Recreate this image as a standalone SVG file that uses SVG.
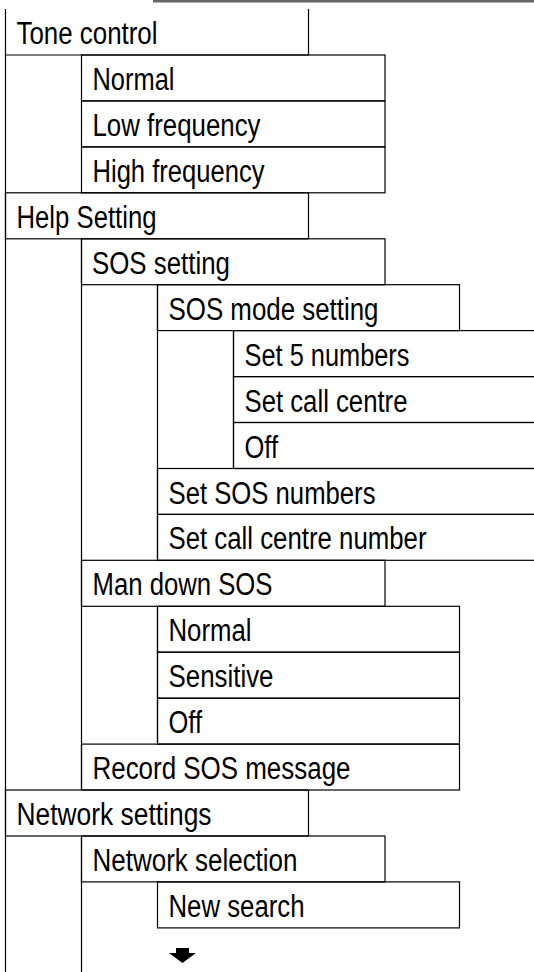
<svg xmlns="http://www.w3.org/2000/svg" width="534" height="972" viewBox="0 0 534 972">
<style>
  .c { fill: none; stroke: #000; stroke-width: 1.2; }
  .t { font-family: "Liberation Sans Narrow", "Arial Narrow", "Liberation Sans", Arial, sans-serif; font-size: 31px; fill: #000; }
</style>
<rect x="153" y="0" width="381" height="2.5" fill="#666"/>
<g id="connectors">
  <line class="c" x1="5.5" y1="9" x2="5.5" y2="972"/>
  <line class="c" x1="81.5" y1="238.8" x2="81.5" y2="790"/>
  <line class="c" x1="81.5" y1="836" x2="81.5" y2="972"/>
  <line class="c" x1="157.5" y1="284.7" x2="157.5" y2="560.3"/>
  <line class="c" x1="157.5" y1="606.3" x2="157.5" y2="744.1"/>
  <line class="c" x1="233.5" y1="330.6" x2="233.5" y2="468.5"/>
</g>
<g id="tone-control">
  <path class="c" d="M308.5,9 V55 H5.5"/>
  <text class="t" x="16.5" y="44.3" textLength="141" lengthAdjust="spacingAndGlyphs">Tone control</text>
</g>
<g id="tone-normal">
  <rect class="c" x="81.5" y="55" width="303.5" height="45.9"/>
  <text class="t" x="92.5" y="90" textLength="82" lengthAdjust="spacingAndGlyphs">Normal</text>
</g>
<g id="tone-low">
  <rect class="c" x="81.5" y="100.9" width="303.5" height="46"/>
  <text class="t" x="92.5" y="135.9" textLength="168" lengthAdjust="spacingAndGlyphs">Low frequency</text>
</g>
<g id="tone-high">
  <rect class="c" x="81.5" y="146.9" width="303.5" height="45.9"/>
  <text class="t" x="92.5" y="181.9" textLength="172" lengthAdjust="spacingAndGlyphs">High frequency</text>
</g>
<g id="help-setting">
  <rect class="c" x="5.5" y="192.8" width="303" height="46"/>
  <text class="t" x="16.5" y="227.8" textLength="140" lengthAdjust="spacingAndGlyphs">Help Setting</text>
</g>
<g id="sos-setting">
  <rect class="c" x="81.5" y="238.8" width="303.5" height="45.9"/>
  <text class="t" x="92" y="273.8" textLength="138" lengthAdjust="spacingAndGlyphs">SOS setting</text>
</g>
<g id="sos-mode-setting">
  <rect class="c" x="157.5" y="284.7" width="302" height="45.9"/>
  <text class="t" x="168.5" y="319.7" textLength="210" lengthAdjust="spacingAndGlyphs">SOS mode setting</text>
</g>
<g id="set-5-numbers">
  <rect class="c" x="233.5" y="330.6" width="310" height="46"/>
  <text class="t" x="244.5" y="365.6" textLength="165" lengthAdjust="spacingAndGlyphs">Set 5 numbers</text>
</g>
<g id="set-call-centre">
  <rect class="c" x="233.5" y="376.6" width="310" height="45.9"/>
  <text class="t" x="244.5" y="411.6" textLength="163" lengthAdjust="spacingAndGlyphs">Set call centre</text>
</g>
<g id="mode-off">
  <rect class="c" x="233.5" y="422.5" width="310" height="46"/>
  <text class="t" x="244.5" y="457.5" textLength="33.5" lengthAdjust="spacingAndGlyphs">Off</text>
</g>
<g id="set-sos-numbers">
  <rect class="c" x="157.5" y="468.5" width="386" height="45.9"/>
  <text class="t" x="168.5" y="503.5" textLength="207" lengthAdjust="spacingAndGlyphs">Set SOS numbers</text>
</g>
<g id="set-call-centre-number">
  <rect class="c" x="157.5" y="514.4" width="386" height="45.9"/>
  <text class="t" x="168.5" y="549.4" textLength="258" lengthAdjust="spacingAndGlyphs">Set call centre number</text>
</g>
<g id="man-down-sos">
  <rect class="c" x="81.5" y="560.3" width="303.5" height="46"/>
  <text class="t" x="92.5" y="595.3" textLength="180" lengthAdjust="spacingAndGlyphs">Man down SOS</text>
</g>
<g id="man-normal">
  <rect class="c" x="157.5" y="606.3" width="302" height="45.9"/>
  <text class="t" x="168.5" y="641.3" textLength="83" lengthAdjust="spacingAndGlyphs">Normal</text>
</g>
<g id="man-sensitive">
  <rect class="c" x="157.5" y="652.2" width="302" height="46"/>
  <text class="t" x="168.5" y="687.2" textLength="105" lengthAdjust="spacingAndGlyphs">Sensitive</text>
</g>
<g id="man-off">
  <rect class="c" x="157.5" y="698.2" width="302" height="45.9"/>
  <text class="t" x="168.5" y="733.2" textLength="33.5" lengthAdjust="spacingAndGlyphs">Off</text>
</g>
<g id="record-sos-message">
  <rect class="c" x="81.5" y="744.1" width="378" height="45.9"/>
  <text class="t" x="92.5" y="779.1" textLength="258" lengthAdjust="spacingAndGlyphs">Record SOS message</text>
</g>
<g id="network-settings">
  <rect class="c" x="5.5" y="790" width="303" height="46"/>
  <text class="t" x="16.5" y="825" textLength="195" lengthAdjust="spacingAndGlyphs">Network settings</text>
</g>
<g id="network-selection">
  <rect class="c" x="81.5" y="836" width="303.5" height="45.9"/>
  <text class="t" x="92.5" y="871" textLength="205" lengthAdjust="spacingAndGlyphs">Network selection</text>
</g>
<g id="new-search">
  <rect class="c" x="157.5" y="881.9" width="302" height="46"/>
  <text class="t" x="168.5" y="916.9" textLength="136" lengthAdjust="spacingAndGlyphs">New search</text>
</g>
<g id="more-arrow">
  <path d="M176,948 H189 V953 H196 L182.5,963 L169,953 H176 Z" fill="#000"/>
</g>
</svg>
